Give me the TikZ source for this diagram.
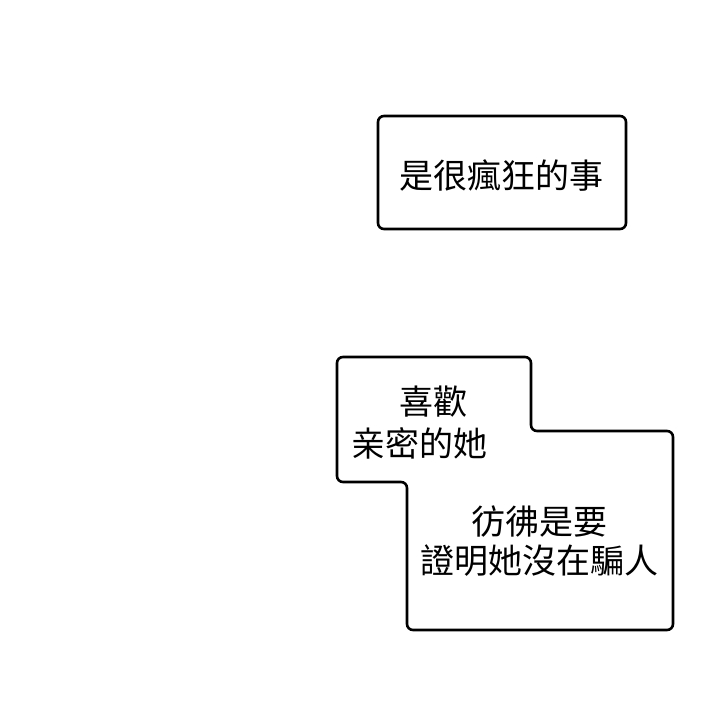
\documentclass[tikz,border=0pt]{standalone}
\usepackage{fontspec}
\newfontfamily\cjk{Noto Sans CJK TC}
\begin{document}
\begin{tikzpicture}[x=1pt,y=-1pt,
  bubble/.style={draw=black,line width=2.6pt,rounded corners=6pt,fill=white},
  txt/.style={font=\cjk\fontsize{34}{39}\selectfont,align=center,inner sep=0pt,text=black}]
\useasboundingbox[fill=white] (0,0) rectangle (720,727);
\draw[bubble] (378,116) rectangle (626,229);
\node[txt] (t1) at (501,175) {是很瘋狂的事};
\draw[bubble] (337,357) -- (531,357) -- (531,431) -- (673,431) -- (673,630) -- (407,630) -- (407,482) -- (337,482) -- cycle;
\node[txt] (t2) at (433,402) {喜歡};
\node[txt] (t3) at (419,443) {亲密的她};
\node[txt] (t4) at (539,541) {彷彿是要\\證明她沒在騙人};
\end{tikzpicture}
\end{document}
